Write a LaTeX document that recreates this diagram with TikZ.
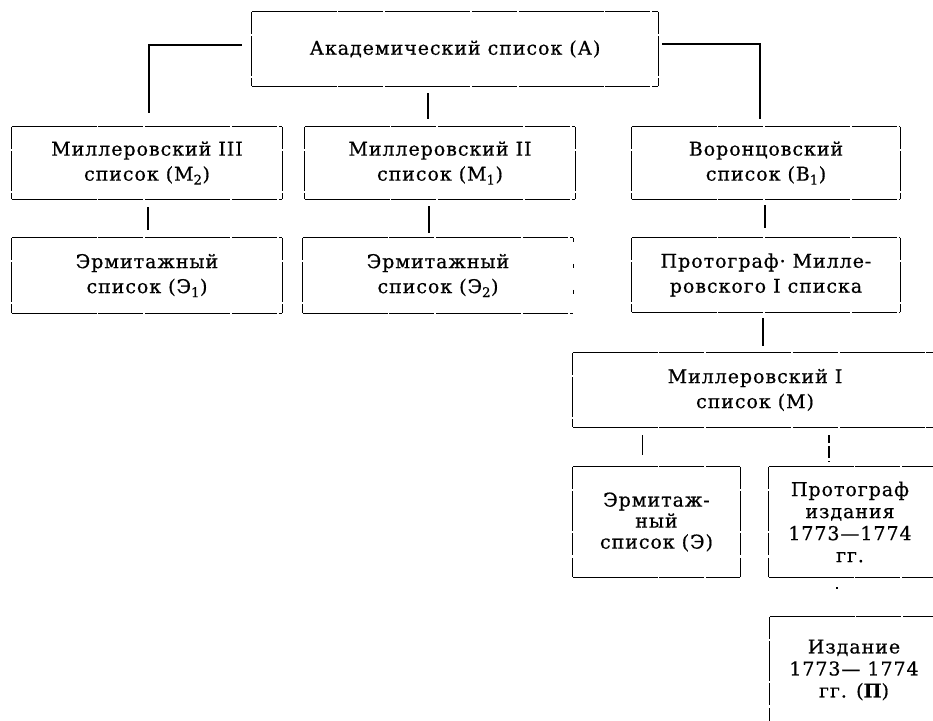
\documentclass[tikz,border=0pt]{standalone}
\usepackage{fontspec}
\setmainfont{DejaVu Serif}[LetterSpace=5,FakeBold=0.6]
\usetikzlibrary{calc}
\newcommand\fullframe[1]{%
  \draw[hl] (#1.north west) -- (#1.north east);
  \draw[hl] (#1.south west) -- (#1.south east);
  \draw[vl] (#1.north west) -- (#1.south west);
  \draw[vl] (#1.north east) -- (#1.south east);}
\begin{document}
\begin{tikzpicture}[x=1pt,y=-1pt,
  box/.style={draw=none,inner sep=0pt,align=center,font=\fontsize{19}{25}\selectfont},
  hl/.style={line width=1.3pt,dash pattern=on 85pt off 1.5pt on 45pt off 2pt},
  vl/.style={line width=1.2pt,dash pattern=on 22pt off 2.5pt on 40pt off 2pt},
  conn/.style={line width=1.3pt}]
\useasboundingbox (0,0) rectangle (933,720);
\fill[white] (0,0) rectangle (933,720);
% nodes
\node[box,minimum width=406pt,minimum height=74pt] (A) at (455,49) {Академический список (А)};
\node[box,minimum width=270pt,minimum height=72pt] (M2) at (147,163) {Миллеровский III\\список (М\textsubscript{2})};
\node[box,minimum width=270pt,minimum height=72pt] (M1) at (440,163) {Миллеровский II\\список (М\textsubscript{1})};
\node[box,minimum width=268pt,minimum height=72pt] (B1) at (766,163) {Воронцовский\\список (В\textsubscript{1})};
\node[box,minimum width=270pt,minimum height=75pt] (E1) at (147,275.5) {Эрмитажный\\список (Э\textsubscript{1})};
\node[box,minimum width=270pt,minimum height=75pt] (E2) at (438,275.5) {Эрмитажный\\список (Э\textsubscript{2})};
\node[box,minimum width=268pt,minimum height=74pt] (PM) at (766,275) {Протограф· Милле-\\ровского I списка};
\node[box,minimum width=364pt,minimum height=74pt] (M) at (755,390) {Миллеровский I\\список (М)};
\node[box,minimum width=167pt,minimum height=110pt,font=\fontsize{19}{21}\selectfont] (E) at (656.5,522) {Эрмитаж-\\ный\\список (Э)};
\node[box,minimum width=162pt,minimum height=110pt,font=\fontsize{19}{22}\selectfont] (PI) at (850,522) {Протограф\\издания\\1773—1774\\гг.};
\node[box,minimum width=168pt,minimum height=106pt,font=\fontsize{19}{22}\selectfont] (I) at (854,670) {Издание\\1773— 1774\\гг. ({\bfseries П})};
% frames
\fullframe{A}
\fullframe{M2}
\fullframe{M1}
\fullframe{B1}
\fullframe{E1}
\fullframe{PM}
\fullframe{E}
\draw[hl] (E2.north west) -- (E2.north east);
\draw[hl] (E2.south west) -- (E2.south east);
\draw[vl] (E2.north west) -- (E2.south west);
\draw[line width=1pt,dash pattern=on 4pt off 22pt] (E2.north east) -- (E2.south east);
\draw[hl] (M.north west) -- (M.north east);
\draw[hl] (M.south west) -- (M.south east);
\draw[vl] (M.north west) -- (M.south west);
\draw[hl] (PI.north west) -- ([xshift=20pt]PI.north east);
\draw[hl] (PI.south west) -- ([xshift=20pt]PI.south east);
\draw[vl] (PI.north west) -- (PI.south west);
\draw[hl] (I.north west) -- ([xshift=20pt]I.north east);
\draw[vl] (I.north west) -- ([yshift=-20pt]I.south west);
% connectors
\draw[conn] ([xshift=-10pt,yshift=4pt]A.west) -| ([xshift=2pt,yshift=14pt]M2.north);
\draw[conn] ([xshift=4pt,yshift=5pt]A.east) -| ([xshift=-6pt,yshift=8pt]B1.north);
\draw[conn,shorten <=7pt,shorten >=8pt] ([xshift=-12pt]M1.north |- A.south) -- ([xshift=-12pt]M1.north);
\draw[conn,shorten <=8pt,shorten >=8pt] ([xshift=1pt]M2.south) -- ([xshift=1pt]E1.north);
\draw[conn,shorten <=7pt,shorten >=5pt] ([xshift=-11pt]M1.south) -- ([xshift=-11pt]M1.south |- E2.north);
\draw[conn,shorten <=6pt,shorten >=10pt] ([xshift=-1pt]B1.south) -- ([xshift=-1pt]PM.north);
\draw[conn,shorten <=6pt,shorten >=7pt] ([xshift=-3pt]PM.south) -- ([xshift=-3pt]PM.south |- M.north);
\draw[conn,shorten <=8pt,shorten >=12pt] ([xshift=-14pt]E.north |- M.south) -- ([xshift=-14pt]E.north);
\draw[conn,dash pattern=on 8pt off 3pt on 12pt off 3pt,shorten <=8pt,shorten >=5pt] ([xshift=-21pt]PI.north |- M.south) -- ([xshift=-21pt]PI.north);
\draw[line width=1.4pt,dash pattern=on 1.5pt off 60pt,shorten <=10pt] ([xshift=-13pt]PI.south) -- ([xshift=-13pt]PI.south |- I.north);
\end{tikzpicture}
\end{document}
